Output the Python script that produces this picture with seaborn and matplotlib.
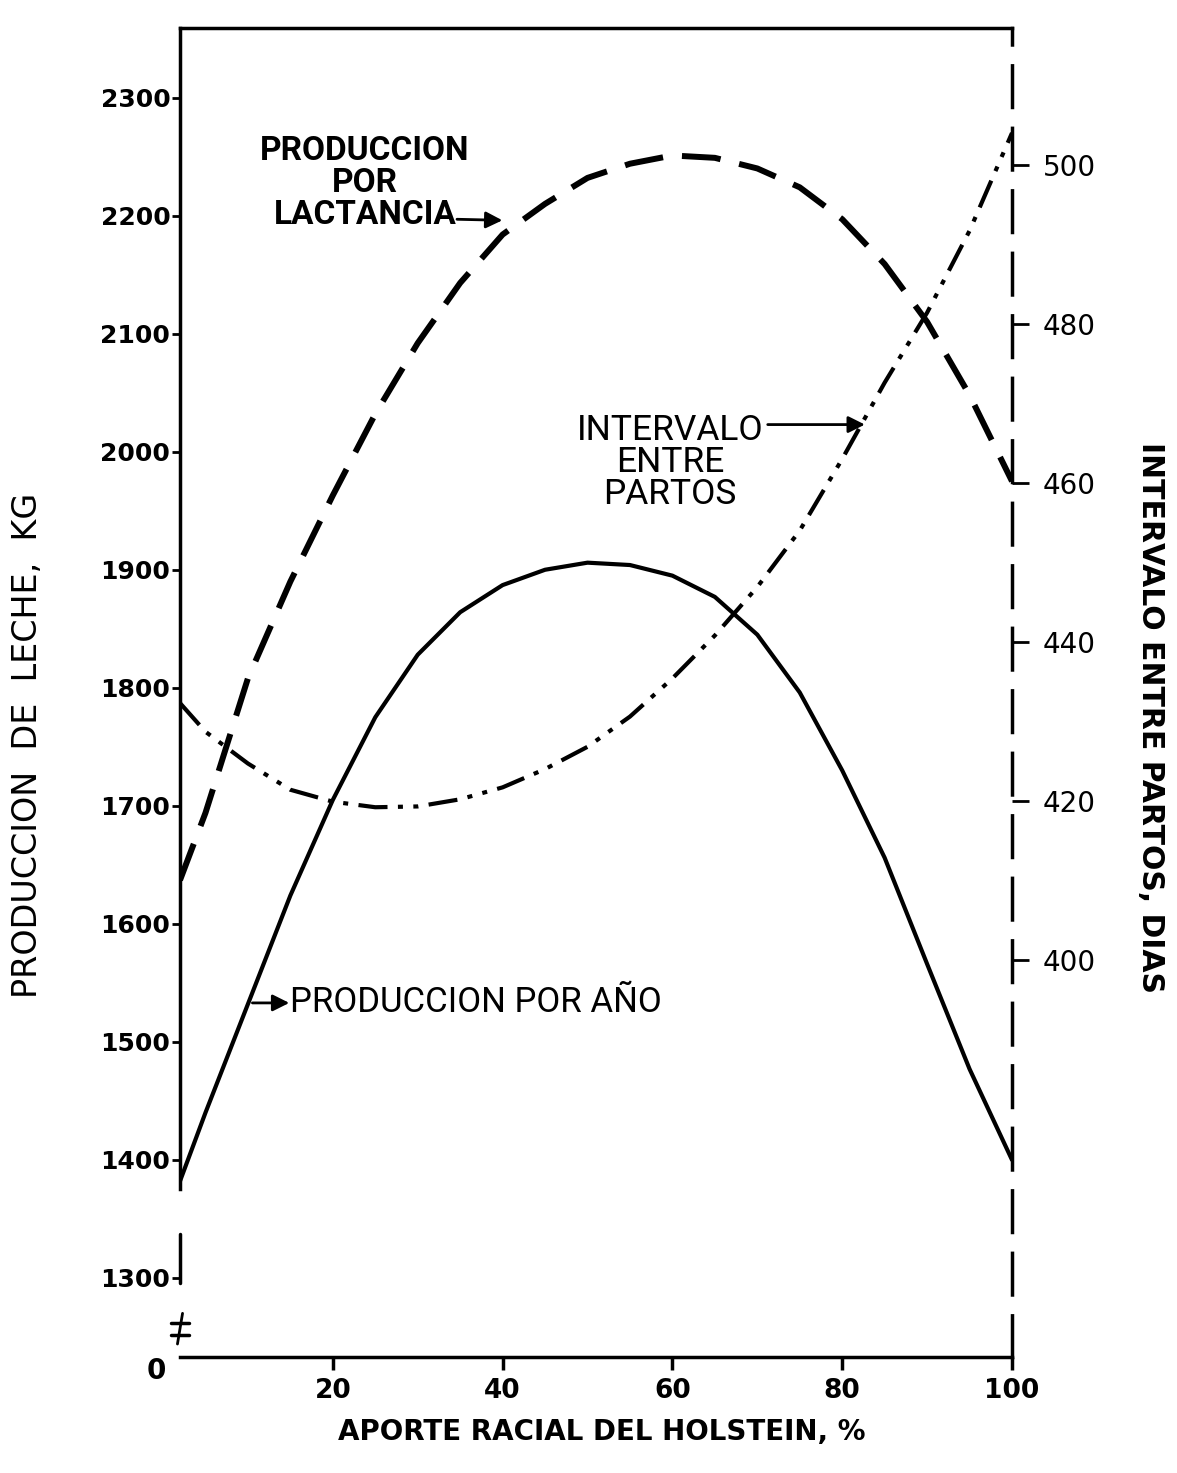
import matplotlib
matplotlib.use("Agg")
import matplotlib.pyplot as plt
import seaborn as sns
import pandas as pd

# ---- data ----
aporte = [2, 5, 10, 15, 20, 25, 30, 35, 40, 45, 50, 55, 60, 65, 70, 75, 80, 85, 90, 95, 100]
prod_lactancia = [1637, 1694, 1808, 1890, 1963, 2032, 2092, 2143, 2184, 2210, 2232,
                  2244, 2251, 2249, 2240, 2224, 2197, 2159, 2110, 2048, 1975]
prod_anio = [1382, 1440, 1532, 1624, 1705, 1775, 1828, 1864, 1887, 1900, 1906,
             1904, 1895, 1877, 1845, 1796, 1730, 1656, 1566, 1477, 1400]
intervalo = [432.3, 428.7, 424.7, 421.4, 419.9, 419.2, 419.3, 420.2, 421.7, 424.0, 426.8,
             430.6, 435.4, 440.8, 446.9, 454.0, 463.0, 472.6, 481.4, 491.7, 504.0]

x_ticks = [20, 40, 60, 80, 100]
left_ticks = [1300, 1400, 1500, 1600, 1700, 1800, 1900, 2000, 2100, 2200, 2300]
right_ticks = [400, 420, 440, 460, 480, 500]

sns.set_theme(style="white")
plt.rcParams["font.family"] = ["DejaVu Sans"]
plt.rcParams["text.color"] = "black"
plt.rcParams["axes.labelcolor"] = "black"
plt.rcParams["xtick.color"] = "black"
plt.rcParams["ytick.color"] = "black"
ann_font = ["Roboto", "DejaVu Sans"]

fig = plt.figure(figsize=(11.77, 14.73), dpi=100)
ax = fig.add_axes([180 / 1177, 116 / 1473, 832 / 1177, 1329 / 1473])
ax2 = ax.twinx()

df = pd.DataFrame({"aporte": aporte, "lact": prod_lactancia,
                   "anio": prod_anio, "int": intervalo})

sns.lineplot(data=df, x="aporte", y="lact", ax=ax, color="black",
             linewidth=4.3, linestyle=(0, (6.5, 3.2)))
sns.lineplot(data=df, x="aporte", y="anio", ax=ax, color="black",
             linewidth=3.0, linestyle="-")
sns.lineplot(data=df, x="aporte", y="int", ax=ax2, color="black",
             linewidth=3.0, linestyle=(0, (7, 2.5, 1.2, 2.5, 1.2, 2.5)))

ylo, yhi = 1233, 2359
ax.set_xlim(2, 100)
ax.set_ylim(ylo, yhi)
ax2.set_ylim(350.06, 517.2)

ax.set_xlabel("")
ax.set_ylabel("")
ax2.set_ylabel("")

ax.set_xticks(x_ticks)
ax.set_xticklabels([str(v) for v in x_ticks], fontsize=19, fontweight="bold")
ax.set_yticks(left_ticks)
ax.set_yticklabels([str(v) for v in left_ticks], fontsize=18, fontweight="bold")
ax2.set_yticks(right_ticks)
ax2.set_yticklabels([str(v) for v in right_ticks], fontsize=20)

ax.tick_params(axis="x", direction="out", length=9, width=2.5, pad=6, bottom=True)
ax.tick_params(axis="y", direction="out", length=6, width=2, pad=1, left=True)
ax2.tick_params(axis="y", direction="out", length=12, width=2, pad=10, right=True)

# spines
for a in (ax, ax2):
    for s in a.spines.values():
        s.set_color("black")
        s.set_linewidth(2.5)
ax2.spines["left"].set_visible(False)
ax2.spines["bottom"].set_visible(False)
ax2.spines["top"].set_visible(False)
ax.spines["right"].set_visible(False)
ax2.spines["right"].set_linestyle((0, (12, 6)))
ax.spines["left"].set_bounds(1375, yhi)
# short piece of left axis near 1300 and axis-break marks
frac = lambda v: (v - ylo) / (yhi - ylo)
ax.axvline(2, ymin=frac(1296), ymax=frac(1337), color="black", lw=2.5, clip_on=False)
ax.plot([0.9, 3.1], [1262, 1262], color="black", lw=2.5, clip_on=False)
ax.plot([0.9, 3.1], [1252, 1252], color="black", lw=2.5, clip_on=False)
ax.plot([1.7, 2.3], [1244, 1270], color="black", lw=2.0, clip_on=False)

# annotations
ax.text(23.8, 2228, "PRODUCCION\nPOR\nLACTANCIA", ha="center", va="center",
        fontsize=24, fontweight="bold", family=ann_font, linespacing=1.0)
ax.annotate("", xy=(40.3, 2196), xytext=(34.3, 2197),
            arrowprops=dict(arrowstyle="-|>", color="black", lw=2, mutation_scale=25))

ax.text(59.7, 1991, "INTERVALO\nENTRE\nPARTOS", ha="center", va="center",
        fontsize=25.5, family=ann_font, linespacing=0.95)
ax.annotate("", xy=(83.0, 2023), xytext=(70.9, 2023),
            arrowprops=dict(arrowstyle="-|>", color="black", lw=2, mutation_scale=25))

ax.text(15.0, 1533, "PRODUCCION POR AÑO", ha="left", va="center",
        fontsize=25, family=ann_font)
ax.annotate("", xy=(15.2, 1533), xytext=(10.2, 1533),
            arrowprops=dict(arrowstyle="-|>", color="black", lw=2, mutation_scale=25))

# labels
fig.text(156 / 1177, 1 - 1371 / 1473, "0", ha="center", va="center",
         fontsize=20, fontweight="bold")
fig.text(28 / 1177, 1 - 745 / 1473, "PRODUCCION  DE  LECHE,  KG", rotation=90,
         ha="center", va="center", fontsize=24)
fig.text(1150 / 1177, 1 - 717 / 1473, "INTERVALO ENTRE PARTOS, DIAS", rotation=270,
         ha="center", va="center", fontsize=21.5, fontweight="bold")
fig.text(602 / 1177, 1 - 1432 / 1473, "APORTE RACIAL DEL HOLSTEIN, %",
         ha="center", va="center", fontsize=20, fontweight="bold")

fig.savefig("out.png", dpi=100, facecolor="white")
